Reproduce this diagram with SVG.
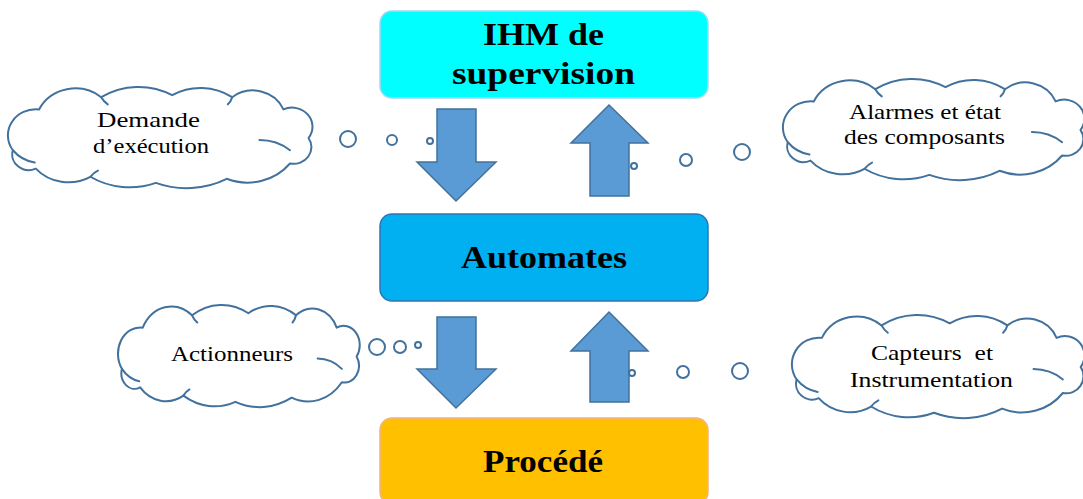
<svg xmlns="http://www.w3.org/2000/svg" xmlns:xlink="http://www.w3.org/1999/xlink" width="1083" height="499" viewBox="0 0 1083 499">
<style>
.cloud{fill:#ffffff;stroke:#41719C;stroke-width:2;stroke-linejoin:round}
.inner{fill:none;stroke:#41719C;stroke-width:2;stroke-linecap:round}
.bub{fill:#ffffff;stroke:#41719C;stroke-width:2}
.arrow{fill:#5B9BD5;stroke:#41719C;stroke-width:1.5}
.title{font-family:"Liberation Serif","Times New Roman",serif;font-weight:bold;font-size:31px;fill:#000000;text-anchor:middle}
.ct{font-family:"Liberation Serif","Times New Roman",serif;font-size:21px;fill:#000000;text-anchor:middle}
</style>
<defs>
<g id="cloudShape">
<path class="cloud" vector-effect="non-scaling-stroke" d="M14,62 A25.6,25.6 0 0 1 38,22 A37.2,37.2 0 0 1 95,10 A63,63 0 0 1 160,8 A51,51 0 0 1 215,10 A30.5,30.5 0 0 1 262,22 A18.7,18.7 0 0 1 285,50 A16.4,16.4 0 0 1 268,75 A50,50 0 0 1 210,90 A79,79 0 0 1 145,94 A68,68 0 0 1 85,88 A40,40 0 0 1 35,80 A15.2,15.2 0 0 1 14,62 Z"/>
<path class="inner" vector-effect="non-scaling-stroke" d="M14,62 Q22,72 34,74"/>
<path class="inner" vector-effect="non-scaling-stroke" d="M240,52 Q256,52 268,62"/>
<path class="inner" vector-effect="non-scaling-stroke" d="M95,10 Q97,14 101,17"/>
<path class="inner" vector-effect="non-scaling-stroke" d="M215,10 Q214,14 211,17"/>
<path class="inner" vector-effect="non-scaling-stroke" d="M85,88 Q88,84 92,82"/>
</g>
</defs>

<g id="node-ihm">
<rect x="380" y="11" width="328" height="87" rx="12" fill="#00FFFF" stroke="#9DDCF5" stroke-width="1.5"/>
<text class="title" x="543.5" y="45" textLength="121" lengthAdjust="spacingAndGlyphs">IHM de</text>
<text class="title" x="543.5" y="84" textLength="183" lengthAdjust="spacingAndGlyphs">supervision</text>
</g>

<g id="node-automates">
<rect x="380" y="214" width="328" height="87" rx="12" fill="#00B0F0" stroke="#2E75B6" stroke-width="1.5"/>
<text class="title" x="544" y="268" textLength="166" lengthAdjust="spacingAndGlyphs">Automates</text>
</g>

<g id="node-procede">
<rect x="380" y="418" width="328" height="86" rx="12" fill="#FFC000" stroke="#F4B183" stroke-width="1.5"/>
<text class="title" x="543" y="472" textLength="120" lengthAdjust="spacingAndGlyphs">Procédé</text>
</g>

<g id="connectors">
<path class="arrow" d="M437,109 H476 V162 H496 L456,201 L417,162 H437 Z"/>
<path class="arrow" d="M609,105 L648,143 H629 V196 H590 V143 H571 Z"/>
<path class="arrow" d="M437,317 H476 V369 H496 L456,408 L417,369 H437 Z"/>
<path class="arrow" d="M609,312 L648,351 H629 V402 H590 V351 H571 Z"/>
</g>

<g id="cloud-demande">
<use xlink:href="#cloudShape" href="#cloudShape" transform="translate(-2.4,87) scale(1.091,1.02)"/>
<circle class="bub" cx="348" cy="139" r="8"/>
<circle class="bub" cx="392" cy="140" r="5"/>
<circle class="bub" cx="430" cy="141" r="3"/>
<text class="ct" x="148.5" y="127" textLength="103" lengthAdjust="spacingAndGlyphs">Demande</text>
<text class="ct" x="151" y="153" textLength="116" lengthAdjust="spacingAndGlyphs">d’exécution</text>
</g>

<g id="cloud-alarmes">
<use xlink:href="#cloudShape" href="#cloudShape" transform="translate(772.7,79) scale(1.08,1.02)"/>
<circle class="bub" cx="634" cy="166" r="3"/>
<circle class="bub" cx="686" cy="160" r="6"/>
<circle class="bub" cx="742" cy="152" r="8"/>
<text class="ct" x="925" y="119" textLength="152" lengthAdjust="spacingAndGlyphs">Alarmes et état</text>
<text class="ct" x="924.5" y="144" textLength="161" lengthAdjust="spacingAndGlyphs">des composants</text>
</g>

<g id="cloud-actionneurs">
<use xlink:href="#cloudShape" href="#cloudShape" transform="translate(109.8,305) scale(0.866,1.03)"/>
<circle class="bub" cx="377" cy="347" r="8"/>
<circle class="bub" cx="400" cy="347" r="6"/>
<circle class="bub" cx="418" cy="345" r="3"/>
<text class="ct" x="232" y="361" textLength="122" lengthAdjust="spacingAndGlyphs">Actionneurs</text>
</g>

<g id="cloud-capteurs">
<use xlink:href="#cloudShape" href="#cloudShape" transform="translate(782,315) scale(1.048,1.04)"/>
<circle class="bub" cx="632" cy="373" r="3"/>
<circle class="bub" cx="683" cy="372" r="6"/>
<circle class="bub" cx="740" cy="371" r="8"/>
<text class="ct" x="932" y="360" textLength="122" lengthAdjust="spacingAndGlyphs" xml:space="preserve">Capteurs  et</text>
<text class="ct" x="931.5" y="387" textLength="163" lengthAdjust="spacingAndGlyphs">Instrumentation</text>
</g>
</svg>
